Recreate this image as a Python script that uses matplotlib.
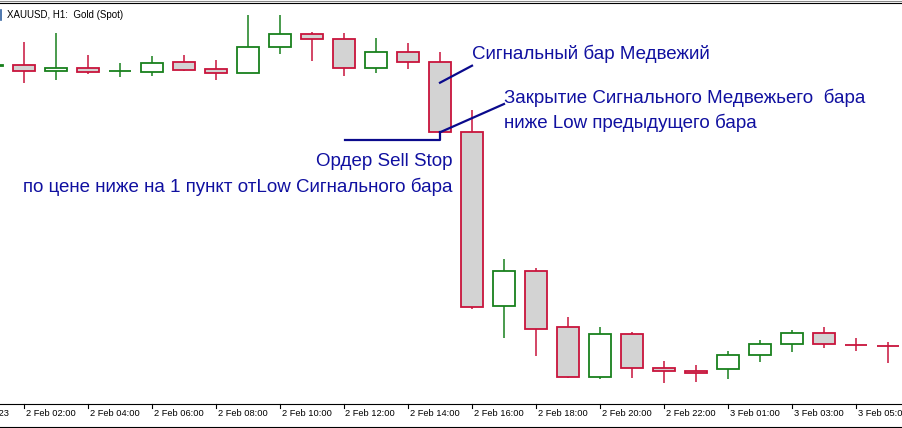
import matplotlib
matplotlib.use("Agg")
import matplotlib.pyplot as plt
from matplotlib.patches import Rectangle
from matplotlib.lines import Line2D

# ---- data (XAUUSD H1) ----
times = ["2 Feb 01:00", "2 Feb 02:00", "2 Feb 03:00", "2 Feb 04:00", "2 Feb 05:00",
         "2 Feb 06:00", "2 Feb 07:00", "2 Feb 08:00", "2 Feb 09:00", "2 Feb 10:00",
         "2 Feb 11:00", "2 Feb 12:00", "2 Feb 13:00", "2 Feb 14:00", "2 Feb 15:00",
         "2 Feb 16:00", "2 Feb 17:00", "2 Feb 18:00", "2 Feb 19:00", "2 Feb 20:00",
         "2 Feb 21:00", "2 Feb 22:00", "2 Feb 23:00", "3 Feb 01:00", "3 Feb 02:00",
         "3 Feb 03:00", "3 Feb 04:00", "3 Feb 05:00", "3 Feb 06:00"]
opens = [1953.40, 1953.50, 1952.93, 1953.17, 1952.90, 1952.83, 1953.77, 1953.07, 1952.67, 1955.27,
         1956.60, 1956.07, 1953.17, 1954.77, 1953.77, 1946.77, 1929.43, 1932.93, 1927.27, 1922.33,
         1926.57, 1923.17, 1922.90, 1923.07, 1924.47, 1925.57, 1926.67, 1925.55, 1925.45]
highs = [1954.00, 1955.80, 1956.70, 1954.50, 1953.70, 1954.40, 1954.50, 1954.00, 1958.50, 1958.50,
         1956.77, 1956.67, 1956.17, 1955.73, 1954.77, 1949.00, 1934.07, 1933.17, 1928.33, 1927.33,
         1926.77, 1923.90, 1923.47, 1924.90, 1926.00, 1927.00, 1927.27, 1926.17, 1925.83]
lows = [1953.00, 1951.70, 1952.00, 1952.57, 1952.27, 1952.43, 1952.93, 1952.00, 1952.67, 1954.60,
        1953.93, 1952.40, 1952.73, 1953.10, 1946.70, 1929.10, 1926.23, 1924.43, 1922.17, 1922.07,
        1922.23, 1921.67, 1921.77, 1922.07, 1923.77, 1924.83, 1925.17, 1924.93, 1923.67]
closes = [1953.50, 1952.93, 1953.17, 1952.83, 1952.95, 1953.67, 1953.03, 1952.67, 1955.27, 1956.57,
          1956.10, 1953.17, 1954.77, 1953.77, 1946.77, 1929.33, 1932.93, 1927.13, 1922.33, 1926.57,
          1923.17, 1922.87, 1922.67, 1924.47, 1925.57, 1926.67, 1925.57, 1925.50, 1925.40]

tick_idx = [-1, 1, 3, 5, 7, 9, 11, 13, 15, 17, 19, 21, 23, 25, 27]
tick_labels = ["2 Feb 2023", "2 Feb 02:00", "2 Feb 04:00", "2 Feb 06:00", "2 Feb 08:00",
               "2 Feb 10:00", "2 Feb 12:00", "2 Feb 14:00", "2 Feb 16:00", "2 Feb 18:00",
               "2 Feb 20:00", "2 Feb 22:00", "3 Feb 01:00", "3 Feb 03:00", "3 Feb 05:00"]

signal_idx = 14

UP = "#18801c"
DN = "#c8143c"
FILL_DN = "#d3d3d3"
NAVY = "#0a0a8c"
TXT = "#1010a0"

W, H = 902, 428
fig = plt.figure(figsize=(W / 100, H / 100), dpi=100)
fig.patch.set_facecolor("white")
ax = fig.add_axes([0, 24 / H, 1, 400 / H])
ax.set_xlim(0.25, 28.4375)
ax.set_ylim(1919.6, 1959.6)
ax.axis("off")

bw = 22 / 32
for i, (o, h, l, c) in enumerate(zip(opens, highs, lows, closes)):
    up = c >= o
    col = UP if up else DN
    ax.add_line(Line2D([i, i], [l, h], color=col, lw=1.1, zorder=2, solid_capstyle="butt"))
    bot = min(o, c)
    ht = abs(c - o)
    ax.add_patch(Rectangle((i - bw / 2, bot), bw, ht, facecolor="white" if up else FILL_DN,
                           edgecolor=col, lw=1.3, zorder=3))

# annotations
sig_c, sig_l = closes[signal_idx], lows[signal_idx]
entry = sig_l - 0.7
ax.plot([signal_idx, signal_idx + 1], [1951.73, 1953.43], color=NAVY, lw=1.6, zorder=5)
ax.plot([signal_idx, signal_idx + 2], [sig_c, 1949.6], color=NAVY, lw=1.6, zorder=5)
ax.plot([11.03, signal_idx, signal_idx], [entry, entry, sig_c], color=NAVY, lw=1.6, zorder=5)

fs = 13.5
fam = ["Liberation Sans", "DejaVu Sans"]
ax.text(15.0, 1954.14, "Сигнальный бар Медвежий", color=TXT, fontsize=fs, family=fam,
        ha="left", va="baseline", zorder=6)
ax.text(16.0, 1949.67, "Закрытие Сигнального Медвежьего  бара", color=TXT, fontsize=fs,
        family=fam, ha="left", va="baseline", zorder=6)
ax.text(16.0, 1947.17, "ниже Low предыдущего бара", color=TXT, fontsize=fs, family=fam,
        ha="left", va="baseline", zorder=6)
ax.text(14.4, 1943.35, "Ордер Sell Stop", color=TXT, fontsize=fs, family=fam,
        ha="right", va="baseline", zorder=6)
ax.text(14.4, 1940.85, "по цене ниже на 1 пункт отLow Сигнального бара", color=TXT, fontsize=fs,
        family=fam, ha="right", va="baseline", zorder=6)

# header label
fig.text(7 / W, 1 - 15 / H, "XAUUSD, H1:  Gold (Spot)", fontsize=7, family=fam,
         ha="left", va="center", color="black")
fig.add_artist(Line2D([1 / W, 1 / W], [1 - 10 / H, 1 - 20 / H], color="#3060a0", lw=1.2))

# frame lines
fig.add_artist(Line2D([0, 1], [1 - 1 / H, 1 - 1 / H], color="#888888", lw=0.8))
fig.add_artist(Line2D([0, 1], [1 - 3 / H, 1 - 3 / H], color="black", lw=0.8))
fig.add_artist(Line2D([0, 1], [24 / H, 24 / H], color="black", lw=0.8))
fig.add_artist(Line2D([0, 1], [1 / H, 1 / H], color="black", lw=0.8))

# x ticks and labels
for ti, lab in zip(tick_idx, tick_labels):
    xp = (-8 + 32 * ti) / W
    fig.add_artist(Line2D([xp, xp], [24 / H, 20 / H], color="black", lw=0.8))
    fig.text(xp + 1.5 / W, 14 / H, lab, fontsize=6.7, family=fam, ha="left", va="center",
             color="black")

fig.savefig("out.png", dpi=100)
